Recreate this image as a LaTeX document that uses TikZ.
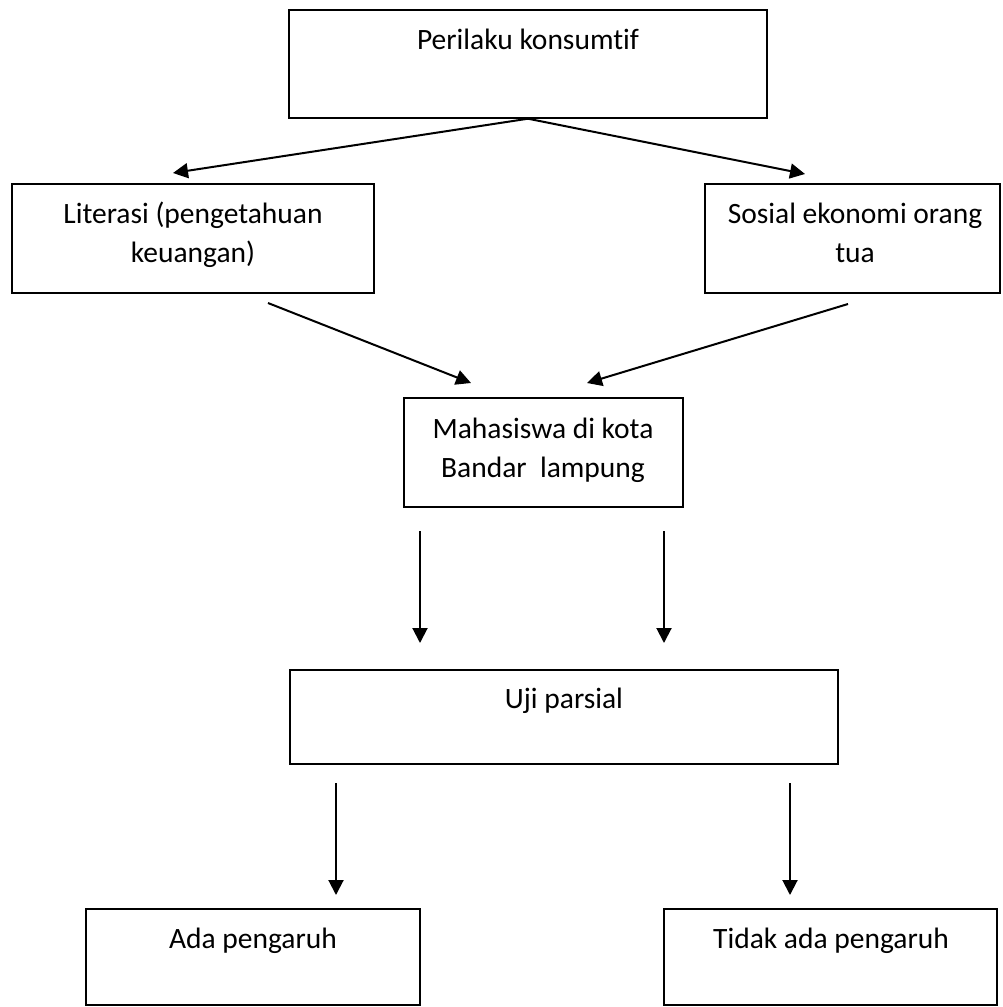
\documentclass[tikz,border=0pt]{standalone}
\usepackage{fontspec}
\setmainfont[Ligatures=NoCommon]{Carlito}
\usetikzlibrary{arrows.meta}
\begin{document}
\begin{tikzpicture}[x=1pt, y=-1pt,
  box/.style={draw, line width=1.4pt, inner sep=0pt},
  lbl/.style={font=\fontsize{29.5}{39}\selectfont, align=center, inner sep=0pt, anchor=base},
  arr/.style={line width=2pt, -{Triangle[length=15pt,width=15pt]}}]
\useasboundingbox (0,0) rectangle (1002,1007);
% boxes
\node[box, minimum width=478, minimum height=108] (perilaku) at (528,64) {};
\node[box, minimum width=362, minimum height=109] (literasi) at (193,238.5) {};
\node[box, minimum width=295, minimum height=109] (sosial) at (852.5,238.5) {};
\node[box, minimum width=279, minimum height=109] (mhs) at (543.5,452.5) {};
\node[box, minimum width=548, minimum height=94] (uji) at (564,717) {};
\node[box, minimum width=334, minimum height=96] (ada) at (253,957) {};
\node[box, minimum width=333, minimum height=96] (tidak) at (830.5,957) {};
% texts (two-line ones sit on the baseline of their last line)
\node[lbl] (tPerilaku) at (528,49) {Perilaku konsumtif};
\node[lbl] (tLiterasi) at (193,262) {Literasi (pengetahuan\\keuangan)};
\node[lbl] (tSosial) at (855,262) {Sosial ekonomi orang\\tua};
\node[lbl] (tMhs) at (543,477) {Mahasiswa di kota\\Bandar\ \ lampung};
\node[lbl] (tUji) at (564,708) {Uji parsial};
\node[lbl] (tAda) at (253,948) {Ada pengaruh};
\node[lbl] (tTidak) at (831,948) {Tidak ada pengaruh};
% free ends of the arrows
\coordinate (litIn) at (173,173);
\coordinate (sosIn) at (805,174);
\coordinate (litOut) at (268,303);
\coordinate (sosOut) at (848,304);
\coordinate (mhsInL) at (471,383);
\coordinate (mhsInR) at (587,383);
\coordinate (mhsOutL) at (420,531);
\coordinate (mhsOutR) at (664,531);
\coordinate (ujiInL) at (420,643);
\coordinate (ujiInR) at (664,643);
\coordinate (ujiOutL) at (336,783);
\coordinate (ujiOutR) at (790,783);
\coordinate (adaIn) at (336,895);
\coordinate (tidakIn) at (790,895);
% arrows
\draw[arr] (perilaku.south) -- (litIn);
\draw[arr] (perilaku.south) -- (sosIn);
\draw[arr] (litOut) -- (mhsInL);
\draw[arr] (sosOut) -- (mhsInR);
\draw[arr] (mhsOutL) -- (ujiInL);
\draw[arr] (mhsOutR) -- (ujiInR);
\draw[arr] (ujiOutL) -- (adaIn);
\draw[arr] (ujiOutR) -- (tidakIn);
\end{tikzpicture}
\end{document}
